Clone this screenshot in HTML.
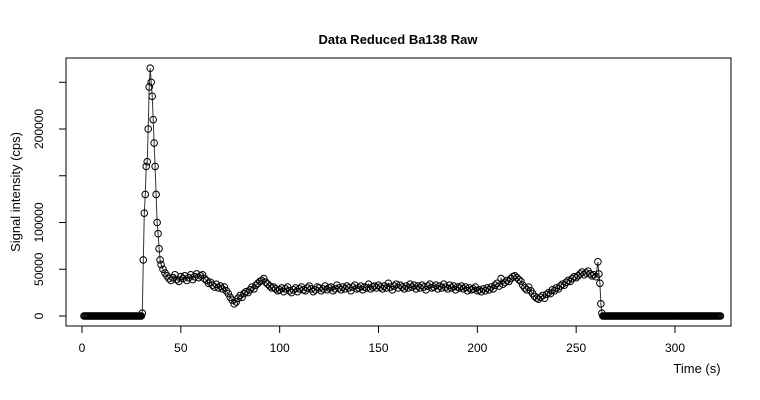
<!DOCTYPE html>
<html><head><meta charset="utf-8"><style>
body{margin:0;background:#fff}
svg{display:block;font-family:"Liberation Sans",Arial,sans-serif}
</style></head><body>
<svg id="chart" width="760" height="400" xmlns="http://www.w3.org/2000/svg">
<rect width="760" height="400" fill="#fff"/>
<text x="398" y="44" text-anchor="middle" font-size="13" font-weight="bold">Data Reduced Ba138 Raw</text>
<rect x="66" y="58" width="665" height="268" fill="none" stroke="#000" stroke-width="1"/>
<g id="xaxis"></g>
<g id="yaxis"></g>
<text x="697" y="373" text-anchor="middle" font-size="13">Time (s)</text>
<text transform="translate(20,192) rotate(-90)" text-anchor="middle" font-size="13">Signal intensity (cps)</text>
<g id="series"></g>
</svg>
<script>
const xTicks=[0,50,100,150,200,250,300];
const yTicks=[0,50000,100000,150000,200000,250000];
const yTickLabels=["0","50000","100000","","200000",""];
const spikeTimes=[30.5,31,31.5,32,32.5,33,33.5,34,34.5,35,35.5,36,36.5,37,37.5,38,38.5,39,39.5,40];
const spikeValues=[3,60,110,130,160,165,200,245,265,250,235,210,185,160,130,100,88,72,60,55];
const plateauStart=41;
const plateauValues=[50,46,43,40,38,41,44,39,37,42,40,43,38,41,44,39,42,45,41,43,
44,40,38,35,36,33,31,34,30,32,29,31,27,24,20,17,13,15,19,22,
20,24,26,25,28,31,29,33,35,37,38,40,36,34,32,30,31,29,27,28,
30,26,29,31,27,25,28,30,26,29,31,28,27,30,32,29,26,28,31,30,
27,29,32,28,30,31,27,29,33,30,28,31,29,32,30,27,31,33,29,30,
32,28,31,30,34,29,31,32,30,33,31,29,32,30,35,31,28,32,34,30,
33,31,29,32,30,34,31,33,29,32,30,33,31,28,32,34,30,31,33,29,
32,30,34,31,29,33,30,32,28,31,30,32,29,31,27,30,28,29,31,27,
28,26,29,27,30,28,31,29,33,35,32,40,34,36,38,37,40,42,43,41,
39,37,33,30,28,31,27,24,21,19,18,20,22,19,23,25,24,28,27,30,
29,32,34,33,36,38,37,40,42,41,43,45,47,44,46,48,45,43,44,42,58];
const tailTimes=[261.5,262,262.5,263];
const tailValues=[45,35,13,3];
const zeroStart1=1, zeroEnd1=30, zeroStart2=263.5, zeroEnd2=323, zeroStep=0.5;

const X=t=>82+t*(675-82)/300;
const Y=v=>316-v*(316-129)/200000;
const NS="http://www.w3.org/2000/svg";
function mk(tag,attrs,parent){const e=document.createElementNS(NS,tag);for(const k in attrs)e.setAttribute(k,attrs[k]);parent.appendChild(e);return e;}

const xa=document.getElementById('xaxis');
mk('line',{x1:X(0),x2:X(300),y1:326,y2:326,stroke:'#000'},xa);
xTicks.forEach(t=>{
  const l=mk('line',{x1:X(t),x2:X(t),y1:326,y2:333,stroke:'#000'},xa);
  
  
  const tx=mk('text',{x:X(t),y:352,'text-anchor':'middle','font-size':12},xa);
  
  
  tx.textContent=t;
});
const ya=document.getElementById('yaxis');
mk('line',{x1:66,x2:66,y1:Y(0),y2:Y(250000),stroke:'#000'},ya);
yTicks.forEach((v,i)=>{
  const l=mk('line',{x1:59,x2:66,y1:Y(v),y2:Y(v),stroke:'#000'},ya);
  
  
  if(yTickLabels[i]){
    const tx=mk('text',{transform:`translate(43,${Y(v)}) rotate(-90)`,'text-anchor':'middle','font-size':12},ya);
    
    
    tx.textContent=yTickLabels[i];
  }
});

const pts=[];
for(let t=zeroStart1;t<=zeroEnd1;t+=zeroStep)pts.push([t,0]);
spikeTimes.forEach((t,i)=>pts.push([t,spikeValues[i]*1000]));
plateauValues.forEach((v,i)=>pts.push([plateauStart+i,v*1000]));
tailTimes.forEach((t,i)=>pts.push([t,tailValues[i]*1000]));
for(let t=zeroStart2;t<=zeroEnd2;t+=zeroStep)pts.push([t,0]);

const g=document.getElementById('series');
const line=mk('polyline',{points:pts.map(p=>X(p[0]).toFixed(1)+','+Y(p[1]).toFixed(1)).join(' '),fill:'none',stroke:'#333','stroke-width':1},g);


pts.forEach(p=>{
  const c=mk('circle',{cx:X(p[0]),cy:Y(p[1]),r:3.3,fill:'none',stroke:'#000','stroke-width':1},g);
  
  
});
</script>
</body></html>
